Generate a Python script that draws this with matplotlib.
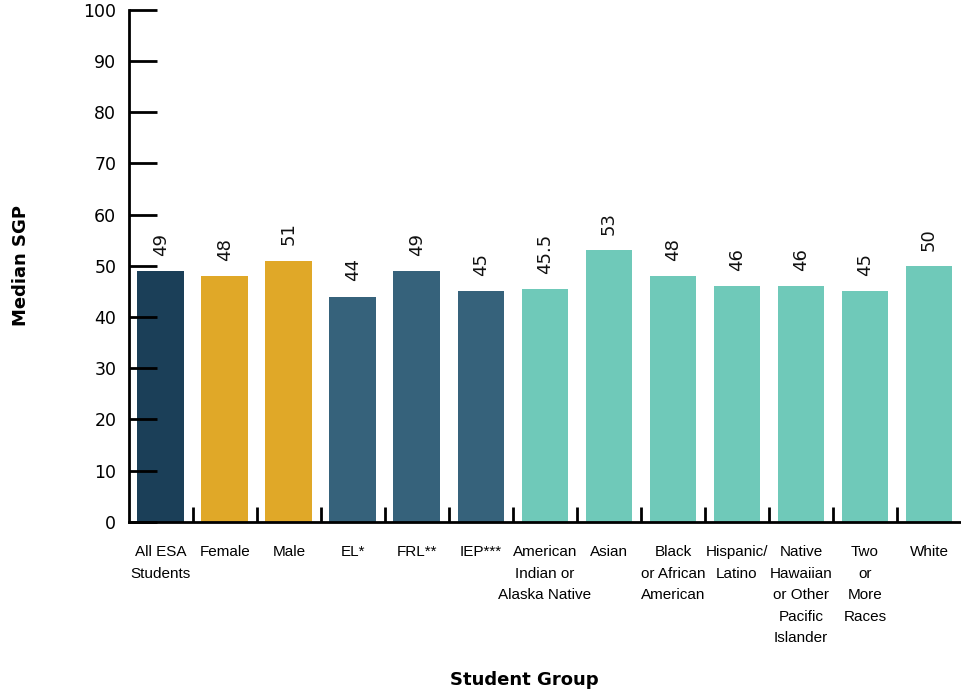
import matplotlib.pyplot as plt
from matplotlib.ticker import FixedLocator

groups = ['All ESA\nStudents', 'Female', 'Male', 'EL*', 'FRL**', 'IEP***',
          'American\nIndian or\nAlaska Native', 'Asian', 'Black\nor African\nAmerican',
          'Hispanic/\nLatino', 'Native\nHawaiian\nor Other\nPacific\nIslander',
          'Two\nor\nMore\nRaces', 'White']
median_sgp = [49, 48, 51, 44, 49, 45, 45.5, 53, 48, 46, 46, 45, 50]
value_labels = ['49', '48', '51', '44', '49', '45', '45.5', '53', '48', '46', '46', '45', '50']

navy = '#1B3F58'
gold = '#E0A828'
steel = '#36627B'
teal = '#6FC9B9'
colors = [navy, gold, gold, steel, steel, steel] + [teal] * 7

fig = plt.figure(figsize=(9.61, 6.94), dpi=100)
ax = fig.add_axes([0.134, 0.248, 0.866, 0.738])

x = range(len(groups))
bars = ax.bar(x, median_sgp, width=0.73, color=colors)

for b, lab in zip(bars, value_labels):
    ax.annotate(lab, (b.get_x() + b.get_width() / 2, b.get_height()),
                xytext=(0, 11), textcoords='offset points',
                ha='center', va='bottom', rotation=90, fontsize=13,
                family='DejaVu Sans', color='#111111')

ax.set_xlim(-0.5, len(groups) - 0.5)
ax.set_ylim(0, 100)
ax.set_yticks(range(0, 101, 10))
ax.tick_params(axis='y', direction='in', length=20, width=2, labelsize=12.5,
               pad=9)
ax.set_xticks(list(x))
ax.set_xticklabels(groups, fontsize=11, family='Liberation Sans',
                   linespacing=1.68)
ax.tick_params(axis='x', which='major', length=0, pad=17)
ax.xaxis.set_minor_locator(FixedLocator([i + 0.5 for i in range(len(groups) - 1)]))
ax.tick_params(axis='x', which='minor', direction='in', length=11, width=2)

for s in ['top', 'right']:
    ax.spines[s].set_visible(False)
ax.spines['left'].set_linewidth(2)
ax.spines['bottom'].set_linewidth(2)

ax.set_ylabel('Median SGP', fontsize=13, fontweight='bold', labelpad=38)
fig.text(0.546, 0.02, 'Student Group', fontsize=13, fontweight='bold',
         ha='center', va='center')

fig.savefig('out.png', dpi=100)
